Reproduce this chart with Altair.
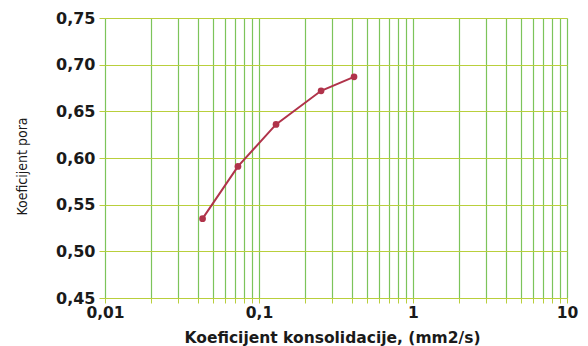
import altair as alt
import pandas as pd

cv = [0.043, 0.073, 0.129, 0.253, 0.414]
e = [0.535, 0.591, 0.636, 0.672, 0.687]

x_grid = [m * 10 ** k for k in (-2, -1, 0) for m in range(1, 10)] + [10]
y_ticks = [0.45, 0.50, 0.55, 0.60, 0.65, 0.70, 0.75]

df = pd.DataFrame({"cv": cv, "e": e})

x = alt.X(
    "cv:Q",
    scale=alt.Scale(type="log", domain=[0.01, 10], nice=False),
    axis=alt.Axis(
        values=x_grid,
        labelExpr="indexof(['0.01','0.1','1','10'], toString(datum.value)) >= 0 ? replace(toString(datum.value), '.', ',') : ''",
        title="Koeficijent konsolidacije, (mm2/s)",
        grid=True, gridColor="#7cc45a", gridWidth=1.2,
        tickColor="#b9cf3c", tickSize=5, domain=False,
        labelFont="DejaVu Sans", labelFontSize=15.5, labelFontWeight="bold", labelColor="#1a1a1a",
        labelPadding=2, labelFlush=False,
        titleFont="DejaVu Sans", titleFontSize=15.5, titleFontWeight="bold", titleColor="#1a1a1a",
        titlePadding=10, titleX=227,
    ),
)
y = alt.Y(
    "e:Q",
    scale=alt.Scale(domain=[0.45, 0.75], nice=False, zero=False),
    axis=alt.Axis(
        values=y_ticks,
        labelExpr="replace(format(datum.value, '.2f'), '.', ',')",
        title="Koeficijent pora",
        grid=True, gridColor="#b9cf3c", gridWidth=1.2,
        tickColor="#b9cf3c", tickSize=6, domain=False,
        labelFont="DejaVu Sans", labelFontSize=16, labelFontWeight="bold", labelColor="#1a1a1a",
        labelPadding=4,
        titleFont="DejaVu Sans Condensed", titleFontSize=14, titleFontWeight="normal", titleColor="#1a1a1a",
        titlePadding=26, titleY=148,
    ),
)

line = alt.Chart(df).mark_line(color="#b0334a", strokeWidth=2).encode(x=x, y=y)
pts = alt.Chart(df).mark_point(filled=True, color="#b0334a", size=45, opacity=1).encode(x=x, y=y)

chart = (
    alt.layer(line, pts)
    .properties(width=462, height=280, padding={"left": 97, "top": 10, "right": 13, "bottom": 48}, autosize="none")
    .configure_view(stroke="#c9d84a", strokeWidth=1.2)
    .configure(background="white")
)

chart.save("out.html", embed_options={"renderer": "svg", "actions": False})
